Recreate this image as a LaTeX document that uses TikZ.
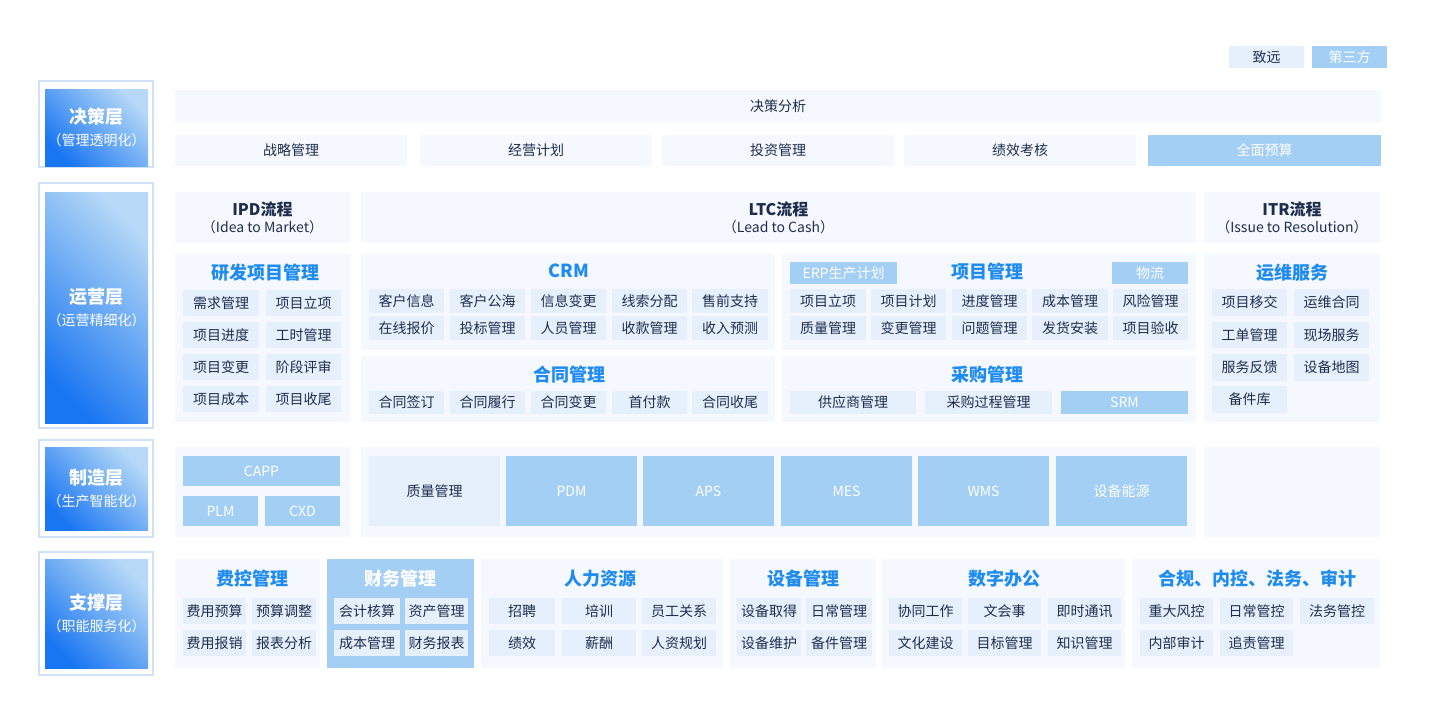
\documentclass[tikz,border=0pt]{standalone}
\usepackage{fontspec}
\setmainfont{Noto Sans CJK SC}
\definecolor{panelc}{HTML}{F5F9FF}
\definecolor{cellc}{HTML}{E6F0FD}
\definecolor{hic}{HTML}{A3CFF5}
\definecolor{txt}{HTML}{1F2D4D}
\definecolor{ttl}{HTML}{1E8BF0}
\definecolor{bord}{HTML}{CFE2F8}
\newcounter{nn}
\newcommand\bx[6][cell]{\stepcounter{nn}\node[#1,minimum width={(#4-#2)*1pt},minimum height={(#5-#3)*1pt}] (n\thenn) at ({(#2+#4)/2},{-(#3+#5)/2}) {#6};}
\newcommand\ttlnode[3]{\stepcounter{nn}\node[ttlst] (n\thenn) at (#1,-#2) {#3};}
\tikzset{
 base/.style={inner sep=0pt,outer sep=0pt,draw=none,align=center},
 cell/.style={base,fill=cellc,text=txt,font=\fontsize{14}{16}\selectfont},
 hi/.style={base,fill=hic,text=white,font=\fontsize{14}{16}\selectfont},
 panel/.style={base,fill=panelc,text=txt,font=\fontsize{14}{16}\selectfont},
 hdr/.style={base,fill=panelc,text=txt,font=\fontsize{14}{17}\selectfont},
 ttlst/.style={base,text=ttl,font=\bfseries\fontsize{18}{20}\selectfont},
 outer/.style={base,draw=bord,line width=1.2pt,fill=white},
 lay/.style={base,top color=hic!80!white,bottom color=ttl!85!blue,shading angle=-45,text=white,font=\fontsize{14}{22}\selectfont},
}
\begin{document}
\begin{tikzpicture}[x=1pt,y=1pt]
\useasboundingbox[fill=white] (0,0) rectangle (1440,-720);
% legend
\bx[cell]{1229}{46}{1304}{68}{致远}
\bx[hi]{1312}{46}{1387}{68}{第三方}
% layer labels
\bx[outer]{39}{81}{153}{167}{}
\bx[lay]{45}{89}{148}{166}{{\bfseries\fontsize{18}{22}\selectfont 决策层}\\（管理透明化）}
\bx[outer]{39}{183}{153}{428}{}
\bx[lay]{45}{192}{148}{423}{{\bfseries\fontsize{18}{22}\selectfont 运营层}\\（运营精细化）}
\bx[outer]{39}{440}{153}{537}{}
\bx[lay]{45}{447}{148}{530}{{\bfseries\fontsize{18}{22}\selectfont 制造层}\\（生产智能化）}
\bx[outer]{39}{552}{153}{675}{}
\bx[lay]{45}{559}{148}{668}{{\bfseries\fontsize{18}{22}\selectfont 支撑层}\\（职能服务化）}
% decision
\bx[panel]{175}{90}{1381}{122}{决策分析}
\bx[panel]{175}{135}{407}{166}{战略管理}
\bx[panel]{420}{135}{652}{166}{经营计划}
\bx[panel]{662}{135}{894}{166}{投资管理}
\bx[panel]{904}{135}{1136}{166}{绩效考核}
\bx[hi]{1148}{135}{1381}{166}{全面预算}
% operations headers
\bx[hdr]{175}{192}{350}{243}{{\bfseries\fontsize{16}{19}\selectfont IPD流程}\\（Idea to Market）}
\bx[hdr]{361}{192}{1196}{243}{{\bfseries\fontsize{16}{19}\selectfont LTC流程}\\（Lead to Cash）}
\bx[hdr]{1204}{192}{1380}{243}{{\bfseries\fontsize{16}{19}\selectfont ITR流程}\\（Issue to Resolution）}
% panels
\bx[panel]{175}{254}{350}{422}{}
\bx[panel]{361}{254}{775}{350}{}
\bx[panel]{361}{356}{775}{422}{}
\bx[panel]{782}{254}{1196}{350}{}
\bx[panel]{782}{356}{1196}{422}{}
\bx[panel]{1204}{254}{1380}{422}{}
\ttlnode{265}{273}{研发项目管理}
\ttlnode{569}{271}{CRM}
\ttlnode{569}{375}{合同管理}
\ttlnode{987}{272}{项目管理}
\ttlnode{987}{375}{采购管理}
\ttlnode{1292}{273}{运维服务}
% R&D cells
\bx{183}{290}{259}{316}{需求管理}\bx{266}{290}{341}{316}{项目立项}
\bx{183}{322}{259}{348}{项目进度}\bx{266}{322}{341}{348}{工时管理}
\bx{183}{354}{259}{380}{项目变更}\bx{266}{354}{341}{380}{阶段评审}
\bx{183}{386}{259}{412}{项目成本}\bx{266}{386}{341}{412}{项目收尾}
% CRM
\bx{369}{289}{444}{313}{客户信息}\bx{450}{289}{525}{313}{客户公海}\bx{531}{289}{606}{313}{信息变更}\bx{612}{289}{687}{313}{线索分配}\bx{692}{289}{768}{313}{售前支持}
\bx{369}{316}{444}{340}{在线报价}\bx{450}{316}{525}{340}{投标管理}\bx{531}{316}{606}{340}{人员管理}\bx{612}{316}{687}{340}{收款管理}\bx{692}{316}{768}{340}{收入预测}
% contract
\bx{369}{391}{444}{414}{合同签订}\bx{450}{391}{525}{414}{合同履行}\bx{531}{391}{606}{414}{合同变更}\bx{612}{391}{687}{414}{首付款}\bx{692}{391}{768}{414}{合同收尾}
% project mgmt
\bx[hi]{790}{262}{897}{284}{ERP生产计划}
\bx[hi]{1112}{262}{1188}{284}{物流}
\bx{790}{289}{866}{313}{项目立项}\bx{871}{289}{946}{313}{项目计划}\bx{952}{289}{1027}{313}{进度管理}\bx{1032}{289}{1108}{313}{成本管理}\bx{1113}{289}{1188}{313}{风险管理}
\bx{790}{316}{866}{340}{质量管理}\bx{871}{316}{946}{340}{变更管理}\bx{952}{316}{1027}{340}{问题管理}\bx{1032}{316}{1108}{340}{发货安装}\bx{1113}{316}{1188}{340}{项目验收}
% purchase
\bx{790}{391}{916}{414}{供应商管理}\bx{925}{391}{1052}{414}{采购过程管理}\bx[hi]{1061}{391}{1188}{414}{SRM}
% O&M
\bx{1212}{289}{1287}{316}{项目移交}\bx{1294}{289}{1369}{316}{运维合同}
\bx{1212}{322}{1287}{348}{工单管理}\bx{1294}{322}{1369}{348}{现场服务}
\bx{1212}{354}{1287}{381}{服务反馈}\bx{1294}{354}{1369}{381}{设备地图}
\bx{1212}{386}{1287}{413}{备件库}
% manufacturing
\bx[panel]{175}{447}{350}{537}{}
\bx[panel]{361}{447}{1196}{537}{}
\bx[panel]{1204}{447}{1380}{537}{}
\bx[hi]{183}{456}{340}{486}{CAPP}
\bx[hi]{183}{496}{258}{526}{PLM}\bx[hi]{265}{496}{340}{526}{CXD}
\bx{369}{456}{500}{526}{质量管理}
\bx[hi]{506}{456}{637}{526}{PDM}\bx[hi]{643}{456}{774}{526}{APS}\bx[hi]{781}{456}{912}{526}{MES}\bx[hi]{918}{456}{1049}{526}{WMS}\bx[hi]{1056}{456}{1187}{526}{设备能源}
% support
\bx[panel]{175}{559}{320}{668}{}
\bx[hi]{327}{559}{474}{668}{}
\bx[panel]{481}{559}{723}{668}{}
\bx[panel]{730}{559}{876}{668}{}
\bx[panel]{882}{559}{1125}{668}{}
\bx[panel]{1132}{559}{1380}{668}{}
\ttlnode{252}{579}{费控管理}
\stepcounter{nn}\node[ttlst,text=white] (n\thenn) at (400,-579) {财务管理};
\ttlnode{600}{579}{人力资源}
\ttlnode{803}{579}{设备管理}
\ttlnode{1004}{579}{数字办公}
\ttlnode{1257}{579}{合规、内控、法务、审计}
\bx{183}{598}{246}{624}{费用预算}\bx{252}{598}{316}{624}{预算调整}
\bx{183}{630}{246}{656}{费用报销}\bx{252}{630}{316}{656}{报表分析}
\bx{334}{598}{400}{624}{会计核算}\bx{405}{598}{468}{624}{资产管理}
\bx{334}{630}{400}{656}{成本管理}\bx{405}{630}{468}{656}{财务报表}
\bx{489}{598}{555}{624}{招聘}\bx{562}{598}{636}{624}{培训}\bx{642}{598}{716}{624}{员工关系}
\bx{489}{630}{555}{656}{绩效}\bx{562}{630}{636}{656}{薪酬}\bx{642}{630}{716}{656}{人资规划}
\bx{737}{598}{801}{624}{设备取得}\bx{806}{598}{872}{624}{日常管理}
\bx{737}{630}{801}{656}{设备维护}\bx{806}{630}{872}{656}{备件管理}
\bx{889}{598}{962}{624}{协同工作}\bx{968}{598}{1041}{624}{文会事}\bx{1048}{598}{1121}{624}{即时通讯}
\bx{889}{630}{962}{656}{文化建设}\bx{968}{630}{1041}{656}{目标管理}\bx{1048}{630}{1121}{656}{知识管理}
\bx{1140}{598}{1213}{624}{重大风控}\bx{1220}{598}{1293}{624}{日常管控}\bx{1300}{598}{1374}{624}{法务管控}
\bx{1140}{630}{1213}{656}{内部审计}\bx{1220}{630}{1293}{656}{追责管理}
\end{tikzpicture}
\end{document}
